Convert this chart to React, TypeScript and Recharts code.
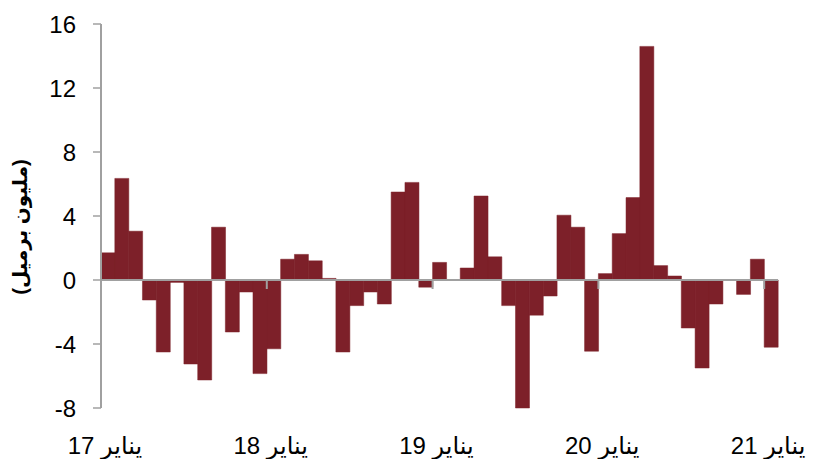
import { BarChart, Bar, XAxis, YAxis, ReferenceLine } from 'recharts';

// Arabic month names, Jan 2017 .. Jan 2021
const MONTH_NAMES = ['يناير', 'فبراير', 'مارس', 'أبريل', 'مايو', 'يونيو', 'يوليو', 'أغسطس', 'سبتمبر', 'أكتوبر', 'نوفمبر', 'ديسمبر'];
const YEARS = ['17', '18', '19', '20'];

const categories: string[] = [
  ...YEARS.flatMap((y) => MONTH_NAMES.map((m) => `${m} ${y}`)),
  'يناير 21',
];

// monthly change, million barrels
const changes = [
  1.7, 6.35, 3.05, -1.25, -4.5, -0.15, -5.25, -6.25, 3.3, -3.25, -0.75, -5.85,
  -4.3, 1.3, 1.6, 1.2, 0.1, -4.5, -1.6, -0.75, -1.5, 5.5, 6.1, -0.45,
  1.1, 0, 0.75, 5.25, 1.45, -1.6, -8.0, -2.2, -1.0, 4.05, 3.3, -4.45,
  0.4, 2.9, 5.15, 14.6, 0.9, 0.25, -3.0, -5.5, -1.5, 0, -0.9, 1.3,
  -4.2,
];

const xTicks = ['يناير 17', 'يناير 18', 'يناير 19', 'يناير 20', 'يناير 21'];
const yTicks = [-8, -4, 0, 4, 8, 12, 16];

const data = categories.map((name, i) => ({ name, value: changes[i] }));

const W = 813;
const H = 459;
const TOP = 24;
const PLOT_BOTTOM = 408;
const AXIS = '#a0a0a0';
const BAR = '#7d2029';
const FONT = 'Arial, "Liberation Sans", "DejaVu Sans", sans-serif';

// zero line position, from the fixed domain
const ZERO_Y = TOP + ((PLOT_BOTTOM - TOP) * 16) / 24;

const YearTick = (props: any) => {
  const { x, y, payload } = props;
  const half = payload?.offset ?? 7;
  return (
    <g>
      <line x1={x - half} x2={x - half} y1={ZERO_Y} y2={ZERO_Y + 9} stroke={AXIS} strokeWidth={2} />
      <text x={x - 3} y={y} dy={46} textAnchor="middle" fontSize={24} fill="#000" fontFamily={FONT}>
        {payload.value}
      </text>
    </g>
  );
};

export default function App() {
  return (
    <div style={{ position: 'absolute', left: 0, top: 0, width: W, height: H, background: '#fff' }}>
      <BarChart
        width={W}
        height={H}
        data={data}
        margin={{ top: TOP, right: 35, left: 0, bottom: 0 }}
        barCategoryGap={0}
        barGap={0}
      >
        <XAxis
          dataKey="name"
          ticks={xTicks}
          interval={0}
          axisLine={false}
          tickLine={false}
          tickSize={0}
          tickMargin={0}
          height={H - PLOT_BOTTOM}
          tick={<YearTick />}
        />
        <YAxis
          domain={[-8, 16]}
          ticks={yTicks}
          interval={0}
          width={101}
          axisLine={{ stroke: AXIS, strokeWidth: 2 }}
          tickLine={{ stroke: AXIS, strokeWidth: 1.5 }}
          tickSize={8}
          tickMargin={17}
          tick={{ fontSize: 24, fill: '#000', fontFamily: FONT }}
        />
        <Bar dataKey="value" fill={BAR} stroke={BAR} strokeWidth={0.5} isAnimationActive={false} />
        <ReferenceLine y={0} stroke={AXIS} strokeWidth={2} />
      </BarChart>
      <svg
        width={40}
        height={H}
        style={{ position: 'absolute', left: 0, top: 0, pointerEvents: 'none' }}
      >
        <text
          x={20}
          y={227}
          transform="rotate(-90, 20, 227)"
          textAnchor="middle"
          dominantBaseline="central"
          fontSize={20}
          fontWeight="bold"
          fontFamily={FONT}
          fill="#000"
        >
          (مليون برميل)
        </text>
      </svg>
    </div>
  );
}
